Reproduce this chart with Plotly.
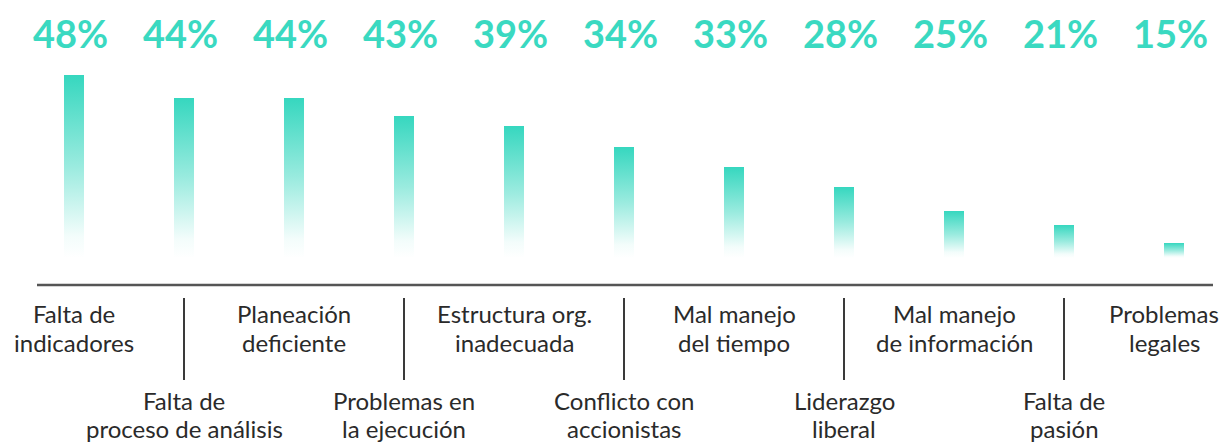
import plotly.graph_objects as go

# ---- data ----
categories = [
    "Falta de<br>indicadores",
    "Falta de<br>proceso de análisis",
    "Planeación<br>deficiente",
    "Problemas en<br>la ejecución",
    "Estructura org.<br>inadecuada",
    "Conflicto con<br>accionistas",
    "Mal manejo<br>del tiempo",
    "Liderazgo<br>liberal",
    "Mal manejo<br>de información",
    "Falta de<br>pasión",
    "Problemas<br>legales",
]
percent_values = [48, 44, 44, 43, 39, 34, 33, 28, 25, 21, 15]
percent_labels = [f"{v}%" for v in percent_values]
# drawn bar lengths as they appear in the picture (decorative scale)
bar_lengths = [183, 160, 160, 142, 132, 111, 91, 71, 47, 33, 15]

TEXT_TEAL = "rgb(58,217,193)"
W, H = 1226, 447
SPACING = 110.0   # px between bar centres
X0 = 74.0         # px of first bar centre
BASE = 258.0      # px of bar bottoms

def xd(px):
    return (px - X0) / SPACING

def yd(py):
    return BASE - py

fig = go.Figure()

hw = 10.0 / SPACING
for i, h in enumerate(bar_lengths):
    fig.add_trace(go.Scatter(
        x=[i - hw, i + hw, i + hw, i - hw, i - hw],
        y=[0, 0, h, h, 0],
        mode="lines",
        line=dict(width=0),
        fill="toself",
        fillgradient=dict(
            type="vertical",
            colorscale=[
                [0.0, "rgba(54,215,191,0.0)"],
                [0.12, "rgba(54,215,191,0.06)"],
                [0.5, "rgba(54,215,191,0.5)"],
                [1.0, "rgba(54,215,191,1.0)"],
            ],
        ),
        hoverinfo="skip",
        showlegend=False,
    ))

annotations = []
for i, lab in enumerate(percent_labels):
    annotations.append(dict(
        x=i, y=yd(32.5), xref="x", yref="y", text=lab, showarrow=False,
        xshift=-4, xanchor="center", yanchor="middle",
        font=dict(family="Lato", size=38, color=TEXT_TEAL, weight="bold"),
    ))

row_lines = {0: (313, 342), 1: (400, 428)}
n = len(categories)
for i, cat in enumerate(categories):
    lines = cat.split("<br>")
    ys = row_lines[i % 2]
    shift = -10 if i == n - 1 else 0
    for ln, py in zip(lines, ys):
        annotations.append(dict(
            x=i, y=yd(py), xref="x", yref="y", text=ln, showarrow=False,
            xanchor="center", yanchor="middle", xshift=shift,
            font=dict(family="Lato", size=24, color="#2a2a2a"),
        ))

shapes = [dict(
    type="line", xref="x", yref="y",
    x0=xd(37), x1=xd(1213), y0=yd(285), y1=yd(285),
    line=dict(color="#555555", width=2.5),
)]
for i in range(1, n, 2):
    shapes.append(dict(
        type="line", xref="x", yref="y",
        x0=i, x1=i, y0=yd(298), y1=yd(380),
        line=dict(color="#3a3a3a", width=2),
    ))

fig.update_layout(
    width=W, height=H,
    margin=dict(l=0, r=0, t=0, b=0),
    paper_bgcolor="white", plot_bgcolor="white",
    xaxis=dict(range=[xd(0), xd(W)], visible=False, fixedrange=True),
    yaxis=dict(range=[yd(H), yd(0)], visible=False, fixedrange=True),
    annotations=annotations,
    shapes=shapes,
    showlegend=False,
)

fig.write_html(
    "out.html",
    config={"displayModeBar": False},
    post_script="document.body.style.margin='0px';document.body.style.overflow='hidden';",
)
